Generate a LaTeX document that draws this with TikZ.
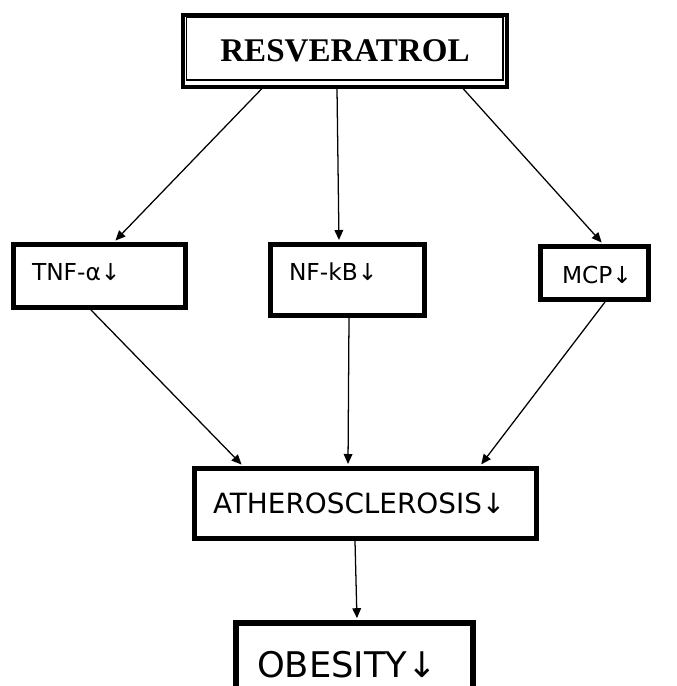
\documentclass[tikz,border=0pt]{standalone}
\usepackage{fontspec}
\setmainfont{Liberation Serif}
\newfontfamily\boxfont{DejaVu Sans}
\usetikzlibrary{arrows.meta}

\newcommand*{\picw}{677}
\newcommand*{\pich}{686}

\begin{document}
\begin{tikzpicture}
[
	x=0.75pt, y=-0.75pt,
	sbox/.style={draw,line width=3.75pt,rectangle,align=left,inner ysep=0pt,text height=13pt,font=\boxfont\fontsize{17.5}{19}\selectfont},
	link/.style={-{Triangle[length=7.5pt,width=6.5pt]},line width=0.95pt,shorten >=1.5pt}
]

	\useasboundingbox (0,0) rectangle (\picw,\pich);
	\clip (0,0) rectangle (\picw,\pich);

	% top box, thick and thin frame
	\node[draw,line width=3pt,minimum width=243pt,minimum height=54pt,inner sep=0pt,
		font=\bfseries\fontsize{24.8}{26}\selectfont] (res) at (345,50.5) {RESVERATROL};
	\draw[line width=1.3pt] ([shift={(5.5,4.5)}]res.north west) rectangle ([shift={(-6,-8.5)}]res.south east);

	% middle row
	\node[sbox,text width=101.25pt,inner xsep=13.875pt,minimum height=47.25pt,text depth=6.2pt] (tnf) at (99.5,276) {TNF-α↓};
	\node[sbox,text width=87.75pt,inner xsep=13.875pt,minimum height=53.25pt,text depth=12.2pt] (nfkb) at (347.5,280) {NF-kB↓};
	\node[sbox,text width=48.75pt,inner xsep=16.125pt,minimum height=39.75pt,text height=16pt,text depth=0pt] (mcp) at (594.5,273) {MCP↓};

	% lower boxes
	\node[sbox,text width=228.75pt,inner xsep=13.875pt,minimum height=52.5pt,text height=,
		font=\boxfont\fontsize{20.9}{22}\selectfont] (athero) at (365.5,503.5) {ATHEROSCLEROSIS↓};
	\node[sbox,line width=4.2pt,text width=146.25pt,inner xsep=15.75pt,minimum height=63pt,text height=,
		font=\boxfont\fontsize{26.5}{28}\selectfont] (obesity) at (354.5,665) {OBESITY↓};

	% arrows
	\draw[link] ([shift={(-83,0)}]res.south) -- ([shift={(14.5,0)}]tnf.north);
	\draw[link] ([shift={(-8,0)}]res.south) -- ([shift={(-8.5,0)}]nfkb.north);
	\draw[link] ([shift={(118,0)}]res.south) -- ([shift={(8.5,0)}]mcp.north);

	\draw[link] ([shift={(-8.5,0)}]tnf.south) -- ([shift={(-122.5,0)}]athero.north);
	\draw[link] ([shift={(1.5,0)}]nfkb.south) -- ([shift={(-17.5,0)}]athero.north);
	\draw[link] ([shift={(10.5,0)}]mcp.south) -- ([shift={(114.5,0)}]athero.north);

	\draw[link] ([shift={(-10.5,0)}]athero.south) -- ([shift={(2.5,0)}]obesity.north);

\end{tikzpicture}
\end{document}
